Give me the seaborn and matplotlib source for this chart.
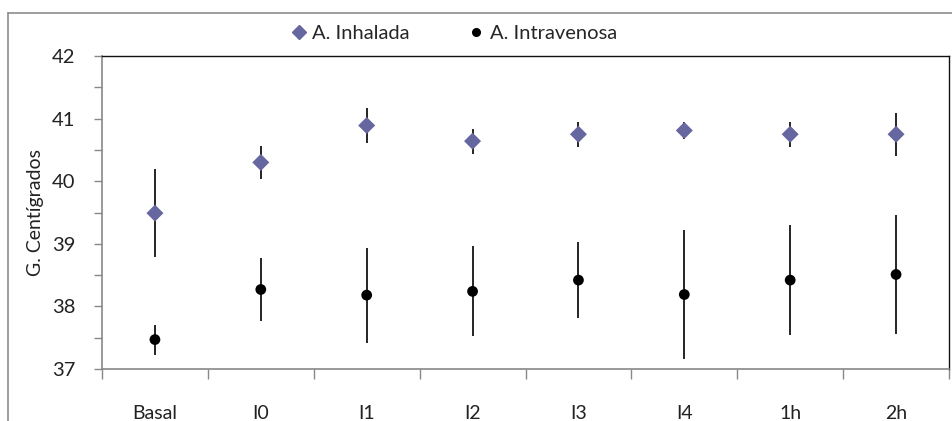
import matplotlib
matplotlib.use("Agg")
import matplotlib.pyplot as plt
import matplotlib.lines as mlines
import seaborn as sns
import pandas as pd

# Sampling moments and the two anaesthesia groups (mean ± SD, °C)
momentos = ["Basal", "I0", "I1", "I2", "I3", "I4", "1h", "2h"]
inhalada_media = [39.49, 40.30, 40.89, 40.64, 40.75, 40.81, 40.75, 40.75]
inhalada_de = [0.70, 0.27, 0.28, 0.20, 0.20, 0.13, 0.20, 0.34]
intravenosa_media = [37.47, 38.27, 38.18, 38.24, 38.42, 38.19, 38.42, 38.51]
intravenosa_de = [0.24, 0.50, 0.76, 0.72, 0.61, 1.03, 0.88, 0.95]
grupos = ["A. Inhalada", "A. Intravenosa"]

df = pd.DataFrame({
    "momento": momentos * 2,
    "temp": inhalada_media + intravenosa_media,
    "de": inhalada_de + intravenosa_de,
    "grupo": [grupos[0]] * len(momentos) + [grupos[1]] * len(momentos),
})

sns.set_theme(style="white")
plt.rcParams["font.family"] = ["Lato", "DejaVu Sans"]

fig = plt.figure(figsize=(9.52, 4.21), dpi=100)
ax = fig.add_axes([102 / 952, 52 / 421, 847 / 952, 313 / 421])

colores = {grupos[0]: "#6666A0", grupos[1]: "#000000"}
marcadores = {grupos[0]: "D", grupos[1]: "o"}
tamanos = {grupos[0]: 75, grupos[1]: 60}

# error whiskers first, markers on top
for g in grupos:
    sub = df[df["grupo"] == g]
    ax.errorbar(range(len(sub)), sub["temp"], yerr=sub["de"], fmt="none",
                ecolor="black", elinewidth=1.2, capsize=0, zorder=2)
    sns.scatterplot(data=sub, x="momento", y="temp", color=colores[g],
                    marker=marcadores[g], s=tamanos[g], edgecolor="none",
                    linewidth=0, ax=ax, zorder=3, legend=False)

ax.set_xlim(-0.5, len(momentos) - 0.5)
ax.set_ylim(37, 42)
ax.set_xticks(range(len(momentos)))
ax.set_xticklabels(momentos, fontsize=14)
ax.set_xticks([i - 0.5 for i in range(len(momentos) + 1)], minor=True)
ax.set_yticks([37, 38, 39, 40, 41, 42])
ax.set_yticklabels(["37", "38", "39", "40", "41", "42"], fontsize=14.5)
ax.set_yticks([37.5 + i for i in range(5)], minor=True)

ax.tick_params(axis="x", which="major", length=0, pad=26, colors="#222222")
ax.tick_params(axis="x", which="minor", direction="out", length=7,
               width=1, color="#888888", bottom=True)
ax.tick_params(axis="y", which="both", direction="out", length=6,
               width=1, color="#888888", left=True, pad=13, colors="#222222")
ax.tick_params(axis="y", which="minor", color="#888888")

ax.set_xlabel("")
ax.set_ylabel("G. Centígrados", fontsize=14, color="#222222", labelpad=6)

for lado in ["top", "right"]:
    ax.spines[lado].set_color("#111111")
    ax.spines[lado].set_linewidth(1.0)
for lado in ["left", "bottom"]:
    ax.spines[lado].set_color("#888888")
    ax.spines[lado].set_linewidth(1.2)

# legend along the top of the chart
h1 = mlines.Line2D([], [], color=colores[grupos[0]], marker="D", linestyle="none",
                   markersize=7)
h2 = mlines.Line2D([], [], color=colores[grupos[1]], marker="o", linestyle="none",
                   markersize=5.5)
fig.legend([h1, h2], grupos, loc="center", bbox_to_anchor=(453 / 952, 1 - 33 / 421),
           ncol=2, frameon=False, fontsize=14.5, handletextpad=0.15,
           columnspacing=2.8, handlelength=1.0)

# outer chart frame
fig.add_artist(mlines.Line2D([8 / 952, 8 / 952], [0, 1 - 13 / 421],
                             transform=fig.transFigure, color="#8c8c8c", lw=1.2))
fig.add_artist(mlines.Line2D([8 / 952, 1], [1 - 13 / 421, 1 - 13 / 421],
                             transform=fig.transFigure, color="#8c8c8c", lw=1.2))

fig.savefig("out.png", dpi=100)
